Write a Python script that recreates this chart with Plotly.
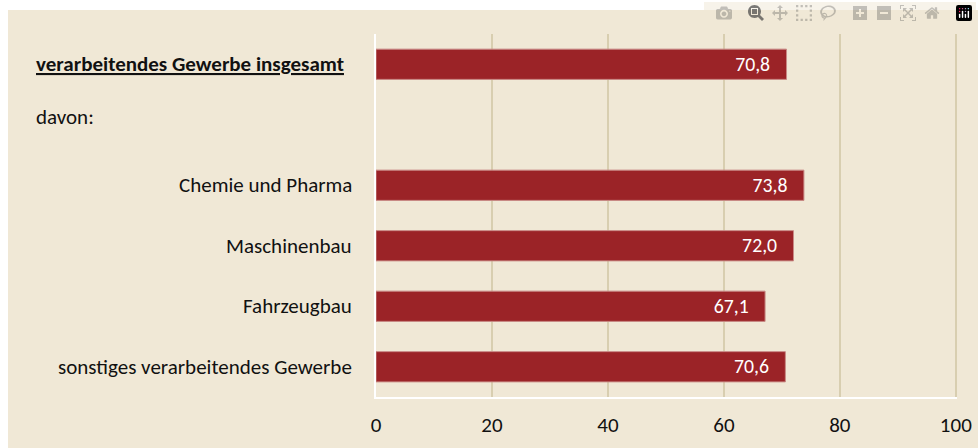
import plotly.graph_objects as go

categories = ["verarbeitendes Gewerbe insgesamt", "davon:",
              "Chemie und Pharma", "Maschinenbau", "Fahrzeugbau",
              "sonstiges verarbeitendes Gewerbe"]
values = [70.8, None, 73.8, 72.0, 67.1, 70.6]
tick_vals = [0, 20, 40, 60, 80, 100]

bg = "#F0E8D6"
bar_col = "#9B2327"
font = "Carlito, Calibri, Lato, sans-serif"

fig = go.Figure()
fig.add_trace(go.Bar(
    x=values, y=categories, orientation="h",
    width=0.5,
    marker=dict(color=bar_col, line=dict(color="#C98A86", width=1)),
    texttemplate="%{x:.1f}\u00a0\u00a0\u00a0", textposition="inside", insidetextanchor="end",
    textfont=dict(color="white", size=22, family=font),
    hoverinfo="skip",
))

# category labels
for i, c in enumerate(categories):
    if i == 0:
        fig.add_annotation(x=-0.5886, y=c, xref="paper", yref="y", xanchor="left",
                           text="<b><u>" + c + "</u></b>", showarrow=False,
                           font=dict(size=21, color="#111", family=font))
    elif i == 1:
        fig.add_annotation(x=-0.5886, y=c, xref="paper", yref="y", xanchor="left",
                           yshift=8, text=c, showarrow=False,
                           font=dict(size=21, color="#111", family=font))
    else:
        fig.add_annotation(x=-0.038, y=c, xref="paper", yref="y", xanchor="right",
                           text=c, showarrow=False,
                           font=dict(size=21, color="#111", family=font))

# white strips along the top and left edge
fig.add_shape(type="rect", xref="paper", yref="paper", x0=-0.7, x1=1.1,
              y0=1.0661, y1=1.1, fillcolor="white", line_width=0, layer="above")
fig.add_shape(type="rect", xref="paper", yref="paper", x0=-0.7, x1=-0.6334,
              y0=-0.2, y1=1.1, fillcolor="white", line_width=0, layer="above")

fig.update_layout(
    width=978, height=448,
    margin=dict(l=376, r=21, t=34, b=51),
    paper_bgcolor=bg, plot_bgcolor=bg,
    separators=",.",
    showlegend=False,
    font=dict(family=font, size=21, color="#111"),
)
fig.update_xaxes(range=[0, 100.2], tickvals=tick_vals, showgrid=True,
                 gridcolor="#D8CEB0", gridwidth=2, zeroline=False,
                 showline=True, linecolor="white", linewidth=2, automargin=False,
                 ticks="", tickfont=dict(size=21, color="#111"), ticklabelstandoff=8,
                 ticklabeloverflow="allow")
fig.update_yaxes(autorange="reversed", showticklabels=False, showgrid=False,
                 showline=True, linecolor="white", linewidth=2, zeroline=False,
                 automargin=False)

fig.write_html("out.html",
               post_script="document.body.style.margin='0';document.body.style.overflow='hidden';")
